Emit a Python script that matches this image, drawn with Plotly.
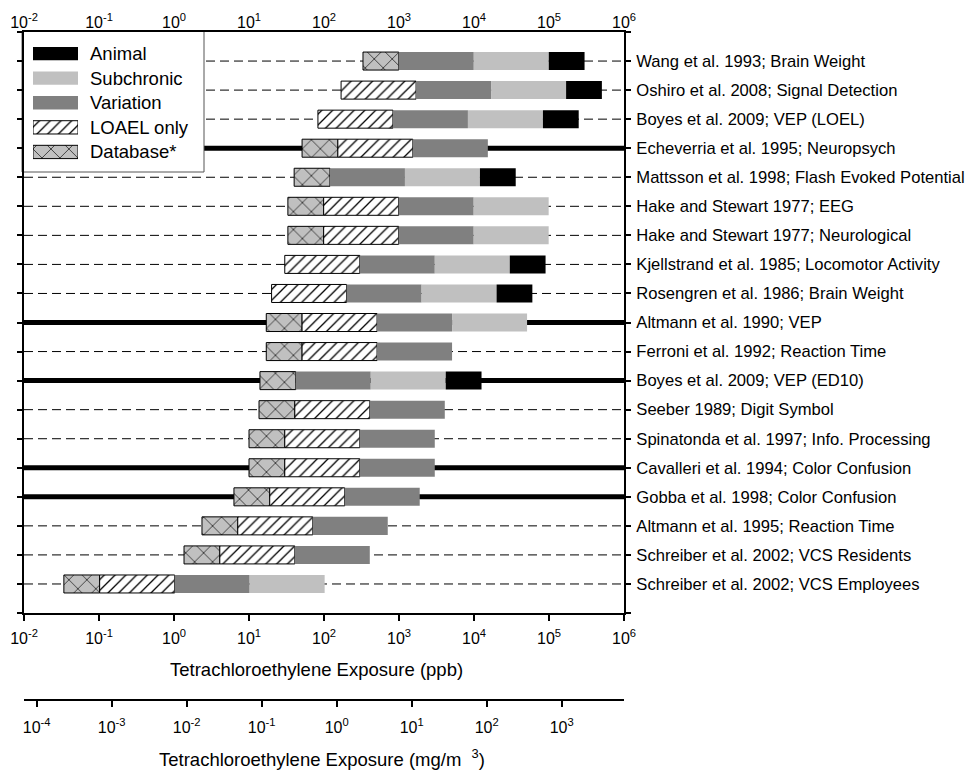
import math
import plotly.graph_objects as go

# ---------------- data ----------------
studies = [
    "Wang et al. 1993; Brain Weight",
    "Oshiro et al. 2008; Signal Detection",
    "Boyes et al. 2009; VEP (LOEL)",
    "Echeverria et al. 1995; Neuropsych",
    "Mattsson et al. 1998; Flash Evoked Potential",
    "Hake and Stewart 1977; EEG",
    "Hake and Stewart 1977; Neurological",
    "Kjellstrand et al. 1985; Locomotor Activity",
    "Rosengren et al. 1986; Brain Weight",
    "Altmann et al. 1990; VEP",
    "Ferroni et al. 1992; Reaction Time",
    "Boyes et al. 2009; VEP (ED10)",
    "Seeber 1989; Digit Symbol",
    "Spinatonda et al. 1997; Info. Processing",
    "Cavalleri et al. 1994; Color Confusion",
    "Gobba et al. 1998; Color Confusion",
    "Altmann et al. 1995; Reaction Time",
    "Schreiber et al. 2002; VCS Residents",
    "Schreiber et al. 2002; VCS Employees",
]
# point of departure (ppb) where each bar starts
start_ppb = [331, 169, 83, 51, 40, 33, 33, 30, 20, 17, 17, 14, 13.6, 10, 10, 6.3, 2.36, 1.36, 0.034]
# multiplicative factors of each stacked segment (1 = segment absent)
database_uf = [3, 1, 1, 3, 3, 3, 3, 1, 1, 3, 3, 3, 3, 3, 3, 3, 3, 3, 3]
loael_uf = [1, 10, 10, 10, 1, 10, 10, 10, 10, 10, 10, 1, 10, 10, 10, 10, 10, 10, 10]
variation_uf = [10, 10, 10, 10, 10, 10, 10, 10, 10, 10, 10, 10, 10, 10, 10, 10, 10, 10, 10]
subchronic_uf = [10, 10, 10, 1, 10, 10, 10, 10, 10, 10, 1, 10, 1, 1, 1, 1, 1, 1, 10]
animal_uf = [3, 3, 3, 1, 3, 1, 1, 3, 3, 1, 1, 3, 1, 1, 1, 1, 1, 1, 1]
# rows drawn with a heavy solid reference line (1) instead of dashed (0)
heavy_line = [0, 0, 0, 1, 0, 0, 0, 0, 0, 1, 0, 1, 0, 0, 1, 1, 0, 0, 0]

ppb_exponents = [-2, -1, 0, 1, 2, 3, 4, 5, 6]
mg_exponents = [-4, -3, -2, -1, 0, 1, 2, 3]
ppb_to_mgm3 = 0.00678

legend_order = ["Animal", "Subchronic", "Variation", "LOAEL only", "Database*"]

# ---------------- styles ----------------
FONT = "Liberation Sans, Arial, Helvetica, sans-serif"
styles = {
    "Database*": dict(color="#c0c0c0",
                      pattern=dict(shape="x", fgcolor="black", bgcolor="#c0c0c0", size=12.7, solidity=0.1),
                      line=dict(color="black", width=1)),
    "LOAEL only": dict(color="white",
                       pattern=dict(shape="/", fgcolor="black", bgcolor="white", size=7.6, solidity=0.17),
                       line=dict(color="black", width=1)),
    "Variation": dict(color="#808080", line=dict(width=0)),
    "Subchronic": dict(color="#c0c0c0", line=dict(width=0)),
    "Animal": dict(color="black", line=dict(width=0)),
}

fig = go.Figure()

y_pos = list(range(1, len(studies) + 1))
segments = [("Database*", database_uf), ("LOAEL only", loael_uf), ("Variation", variation_uf),
            ("Subchronic", subchronic_uf), ("Animal", animal_uf)]
cum = list(start_ppb)
for name, uf in segments:
    ys, bases, lens = [], [], []
    for i, f in enumerate(uf):
        if f > 1:
            ys.append(y_pos[i])
            bases.append(cum[i])
            lens.append(cum[i] * f - cum[i])
            cum[i] = cum[i] * f
    fig.add_trace(go.Bar(y=ys, x=lens, base=bases, orientation="h", width=0.62,
                         marker=styles[name], name=name, showlegend=False,
                         xaxis="x", yaxis="y", hoverinfo="skip"))

# dummy traces so the extra x axes are drawn
fig.add_trace(go.Scatter(x=[1], y=[-5], xaxis="x2", yaxis="y", mode="markers",
                         marker=dict(opacity=0), showlegend=False, hoverinfo="skip"))
fig.add_trace(go.Scatter(x=[1], y=[-5], xaxis="x3", yaxis="y", mode="markers",
                         marker=dict(opacity=0), showlegend=False, hoverinfo="skip"))

# reference lines for every row
for yv, heavy in zip(y_pos, heavy_line):
    fig.add_shape(type="line", xref="paper", yref="y", x0=0, x1=1, y0=yv, y1=yv, layer="below",
                  line=dict(color="black", width=5 if heavy else 1, dash="solid" if heavy else "9px,5px"))

# ---------------- legend (box + swatch subplot + text) ----------------
fig.add_shape(type="rect", xref="paper", yref="paper", x0=-0.0033, x1=0.30, y0=0.7904, y1=1.0015,
              layer="below", fillcolor="white", line=dict(color="#555555", width=1))
for k, name in enumerate(legend_order):
    fig.add_trace(go.Bar(y=[k], x=[1], base=[0], orientation="h", width=0.54,
                         marker=styles[name], showlegend=False, xaxis="x4", yaxis="y4",
                         hoverinfo="skip"))
    fig.add_annotation(text=name, xref="x4 domain", yref="y4", x=1.22, y=k, xanchor="left",
                       yanchor="middle", showarrow=False, font=dict(family=FONT, size=18.5, color="black"))

# axis titles
fig.add_annotation(text="Tetrachloroethylene Exposure (ppb)", xref="paper", yref="paper", x=0.487, y=0.045,
                   xanchor="center", yanchor="middle",
                   showarrow=False, font=dict(family=FONT, size=18.5, color="black"))
fig.add_annotation(text="Tetrachloroethylene Exposure (mg/m  <sup>3</sup>)", xref="paper", yref="paper",
                   x=0.497, y=-0.087, xanchor="center", yanchor="middle",
                   showarrow=False, font=dict(family=FONT, size=18.5, color="black"))

ppb_vals = [10.0 ** e for e in ppb_exponents]
ppb_text = ["10<sup>%d</sup>" % e for e in ppb_exponents]
mg_vals = [10.0 ** e for e in mg_exponents]
mg_text = ["10<sup>%d</sup>" % e for e in mg_exponents]
tickfont = dict(family=FONT, size=16, color="black")

# the page body adds an 8px margin, so the figure is 8px smaller and margins compensate
fig.update_layout(
    width=969, height=763, template="none",
    margin=dict(l=16, r=353, t=24, b=71, pad=0),
    paper_bgcolor="white", plot_bgcolor="white",
    barmode="overlay", showlegend=False,
    font=dict(family=FONT, color="black"),
    xaxis=dict(type="log", range=[-2, 6], domain=[0, 1], anchor="y",
               tickvals=ppb_vals, ticktext=ppb_text, tickfont=tickfont,
               ticks="outside", ticklen=6, tickwidth=1.5, tickcolor="black",
               showline=True, linecolor="black", linewidth=1.5, mirror=True,
               showgrid=False, zeroline=False, automargin=False, ticklabelstandoff=4),
    xaxis2=dict(type="log", range=[-2, 6], overlaying="x", side="top", anchor="y",
                tickvals=ppb_vals, ticktext=ppb_text, tickfont=tickfont,
                ticks="", showline=False, showgrid=False, zeroline=False, automargin=False),
    xaxis3=dict(type="log", range=[math.log10(10.0 ** -2 * ppb_to_mgm3), math.log10(10.0 ** 6 * ppb_to_mgm3)],
                overlaying="x", anchor="free", position=0, side="bottom",
                tickvals=mg_vals, ticktext=mg_text, tickfont=tickfont,
                ticks="outside", ticklen=6, tickwidth=1.5, tickcolor="black",
                showline=True, linecolor="black", linewidth=1.5,
                showgrid=False, zeroline=False, automargin=False, ticklabelstandoff=7),
    yaxis=dict(range=[20, 0], domain=[0.1302, 1], anchor="x", side="right",
               tickvals=list(range(0, len(studies) + 2)),
               ticktext=[""] + studies + [""],
               tickfont=dict(family=FONT, size=16.6, color="black"),
               ticks="outside", ticklen=5, tickwidth=2, tickcolor="black",
               showline=True, linecolor="black", linewidth=2, mirror="ticks",
               showgrid=False, zeroline=False, automargin=False, ticklabelstandoff=2),
    xaxis4=dict(domain=[0.015, 0.09], range=[0, 1], anchor="y4", visible=False, fixedrange=True),
    yaxis4=dict(domain=[0.8020, 0.9862], range=[4.5, -0.5], anchor="x4", visible=False, fixedrange=True),
)

fig.write_html("out.html")
